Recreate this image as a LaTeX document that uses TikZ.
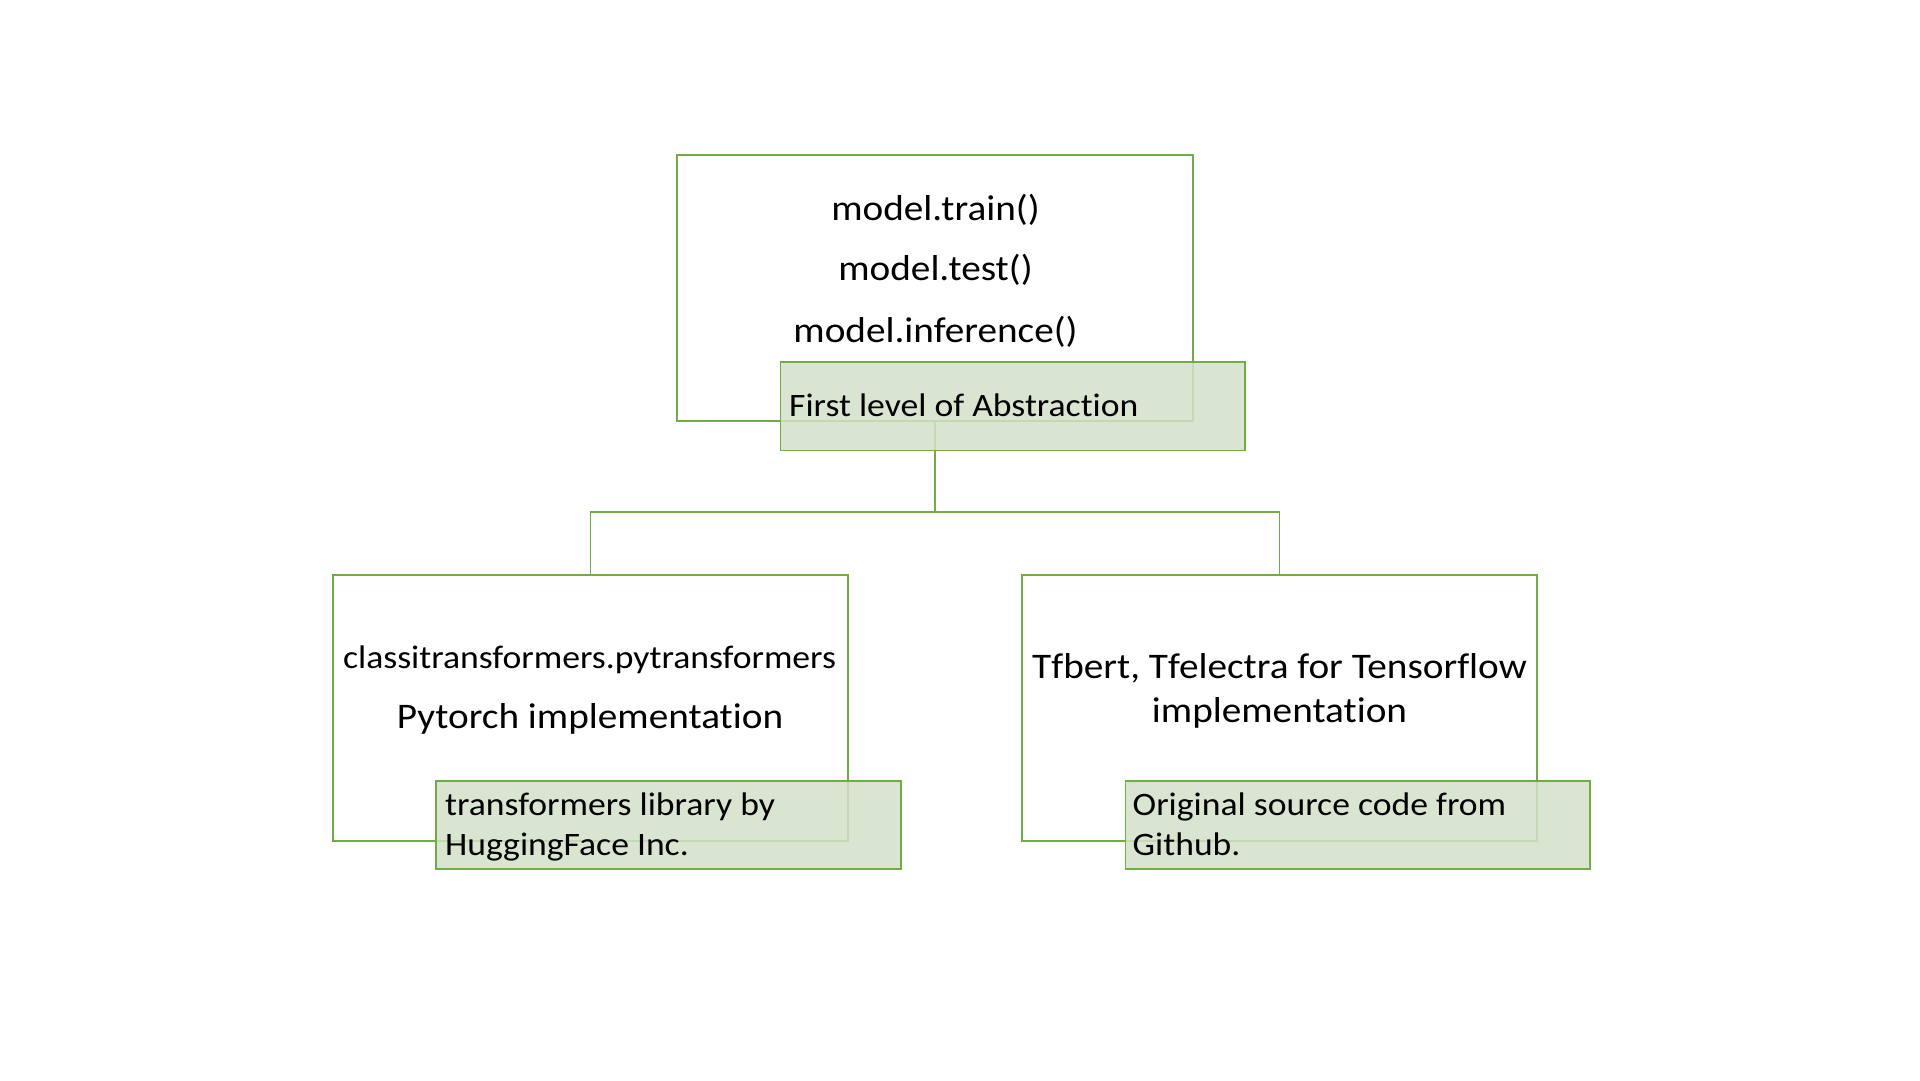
\documentclass[tikz,border=0pt]{standalone}
\usepackage{fontspec}
\setmainfont{Carlito}[FakeStretch=1.09,Ligatures=NoCommon,Contextuals=NoAlternate]
\definecolor{boxgreen}{RGB}{112,173,71}
\definecolor{notefill}{RGB}{210,224,201}

\begin{document}
\begin{tikzpicture}[x=1pt,y=-1pt,
  box/.style={draw=boxgreen,line width=1.8pt,inner sep=0pt,minimum width=515.5pt,minimum height=266pt},
  note/.style={draw=boxgreen,fill=notefill,fill opacity=0.85,line width=1.8pt,inner sep=0pt,minimum width=464.5pt,minimum height=88.5pt},
  wire/.style={draw=boxgreen,line width=1.8pt},
  big/.style={font=\fontsize{36}{44}\selectfont,anchor=base,inner sep=0pt},
  small/.style={font=\fontsize{32.7}{40}\selectfont,anchor=base west,inner sep=0pt}]
\useasboundingbox (0,0) rectangle (1920,1080);
\node[box] (api) at (935,288) {};
\node[box] (torch) at (590.5,708) {};
\node[box] (tf) at (1279.5,708) {};
\coordinate (fork) at (935,512.3);
\draw[wire] (api.south) -- (fork) -| (torch.north);
\draw[wire] (fork) -| (tf.north);
\node[note] (apinote) at (1012.7,406.2) {};
\node[note] (torchnote) at (668.5,825) {};
\node[note] (tfnote) at (1357.8,825) {};
\node[big] (train) at (935.5,220) {model.train()};
\node[big] (test) at (935.5,280) {model.test()};
\node[big] (infer) at (935.5,342) {model.inference()};
\node[small,anchor=base] (pkg) at (589.5,668) {classitransformers.pytransformers};
\node[big] (pyimpl) at (590,728) {Pytorch implementation};
\node[big] (tfline) at (1279.5,678) {Tfbert, Tfelectra for Tensorflow};
\node[big] (tfimpl) at (1279.5,722) {implementation};
\node[small] (apilabel) at (789,416) {First level of Abstraction};
\node[small] (hf1) at (445,815) {transformers library by};
\node[small] (hf2) at (445,855) {HuggingFace Inc.};
\node[small] (gh1) at (1132.5,815) {Original source code from};
\node[small] (gh2) at (1132.5,855) {Github.};
\end{tikzpicture}
\end{document}
